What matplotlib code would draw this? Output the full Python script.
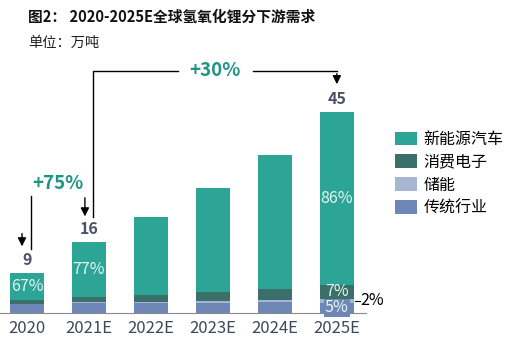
import numpy as np
import matplotlib
matplotlib.use("Agg")
import matplotlib.pyplot as plt

plt.rcParams['font.family'] = ['Noto Sans CJK SC', 'DejaVu Sans']

years = ["2020", "2021E", "2022E", "2023E", "2024E", "2025E"]
totals = [9, 16, 21.5, 28, 35.3, 45]
traditional = [1.92, 2.23, 2.2, 2.2, 2.4, 2.25]   # 传统行业
storage = [0.15, 0.25, 0.3, 0.45, 0.5, 0.9]       # 储能
consumer = [0.9, 1.2, 1.5, 2.1, 2.5, 3.15]        # 消费电子
ev = [6.03, 12.32, 17.5, 23.25, 29.9, 38.7]       # 新能源汽车
series_names = ["新能源汽车", "消费电子", "储能", "传统行业"]
growth = ["+75%", "+30%"]

C_EV, C_CE, C_ST, C_TR = "#2ca596", "#3a7069", "#a6b6d2", "#6e87b7"
TEAL_TXT = "#1d9484"
NUM_GRAY = "#4a5263"

fig = plt.figure(figsize=(5.11, 3.46), dpi=100)
ax = fig.add_axes([0, 33 / 346, 366 / 511, 268 / 346])

x = np.arange(len(years))
w = 0.55
tr = np.array(traditional); st = np.array(storage); ce = np.array(consumer); e = np.array(ev)
b_tr = ax.bar(x, tr, w, color=C_TR)
b_st = ax.bar(x, st, w, bottom=tr, color=C_ST)
b_ce = ax.bar(x, ce, w, bottom=tr + st, color=C_CE)
b_ev = ax.bar(x, e, w, bottom=tr + st + ce, color=C_EV)

ax.set_xlim(-0.435, 5.47)
ax.set_ylim(0, 60)
for s in ["top", "left", "right"]:
    ax.spines[s].set_visible(False)
ax.spines["bottom"].set_color("#8a8a8a")
ax.set_yticks([])
ax.set_xticks(x)
ax.set_xticklabels(years, fontsize=12, color="#3f4758")
ax.tick_params(axis="x", length=0, pad=5)

# totals above bars
for i in (0, 1, 5):
    ax.text(x[i], totals[i] + 2.8, f"{totals[i]:g}", ha="center", va="center",
            fontsize=11.5, fontweight="bold", color=NUM_GRAY)

# share labels, centred in their segment
lab = dict(ha="center", va="center", fontsize=11.5, color="#e4f6f1")
for i in (0, 1, 5):
    base = tr[i] + st[i] + ce[i]
    ax.text(x[i], base + e[i] / 2, f"{e[i] / totals[i] * 100:.0f}%", **lab)
ax.text(x[5], tr[5] + st[5] + ce[5] / 2, f"{ce[5] / totals[5] * 100:.0f}%", **lab)
ax.text(x[5], tr[5] / 2, f"{tr[5] / totals[5] * 100:.0f}%",
        bbox=dict(boxstyle="square,pad=0.05", fc=C_TR, ec="none"), **lab)
ym = tr[5] + st[5] / 2
ax.plot([x[5] + w / 2 + 0.01, x[5] + w / 2 + 0.1], [ym, ym], color="black", lw=0.8,
        clip_on=False)
ax.text(x[5] + w / 2 + 0.11, ym, f"{st[5] / totals[5] * 100:.0f}%", ha="left", va="center",
        fontsize=11.5, color="black", clip_on=False)

# growth brackets
ln = dict(color="black", lw=1.0)
arr = dict(arrowstyle="-|>,head_width=0.25,head_length=0.5", color="black", lw=1.0)
ax.plot([x[0] + 0.065, x[0] + 0.065], [totals[0] + 5.3, totals[0] + 17.2], **ln)
ax.annotate("", xy=(x[0] - 0.08, totals[0] + 5.3), xytext=(x[0] - 0.08, totals[0] + 9.4),
            arrowprops=arr)
ax.annotate("", xy=(x[1] - 0.065, totals[1] + 5.0), xytext=(x[1] - 0.065, totals[1] + 10.4),
            arrowprops=arr)
ax.text(0.5, 28.9, growth[0], ha="center", va="center", fontsize=13.5,
        fontweight="bold", color=TEAL_TXT)

top = 54.2
ax.plot([x[1] + 0.065, x[1] + 0.065, 2.44], [totals[1] + 5.5, top, top], **ln)
ax.plot([3.645, x[5]], [top, top], **ln)
ax.annotate("", xy=(x[5], totals[5] + 5.6), xytext=(x[5], top), arrowprops=arr)
ax.text(3.03, top, growth[1], ha="center", va="center", fontsize=13.5,
        fontweight="bold", color=TEAL_TXT)

fig.legend([b_ev, b_ce, b_st, b_tr], series_names, loc="upper left",
           bbox_to_anchor=(395 / 511, 1 - 131 / 346), frameon=False, fontsize=11.5,
           handlelength=1.4, handleheight=0.95, handletextpad=0.38, labelspacing=0.36,
           borderpad=0, borderaxespad=0)

fig.text(28 / 511, 1 - 17 / 346, "图2： 2020-2025E全球氢氧化锂分下游需求", fontsize=10.6,
         fontweight="bold", ha="left", va="center", color="#111111")
fig.text(28 / 511, 1 - 43 / 346, "单位：万吨", fontsize=10.3, style="italic",
         ha="left", va="center", color="#222222")

fig.savefig("out.png")
